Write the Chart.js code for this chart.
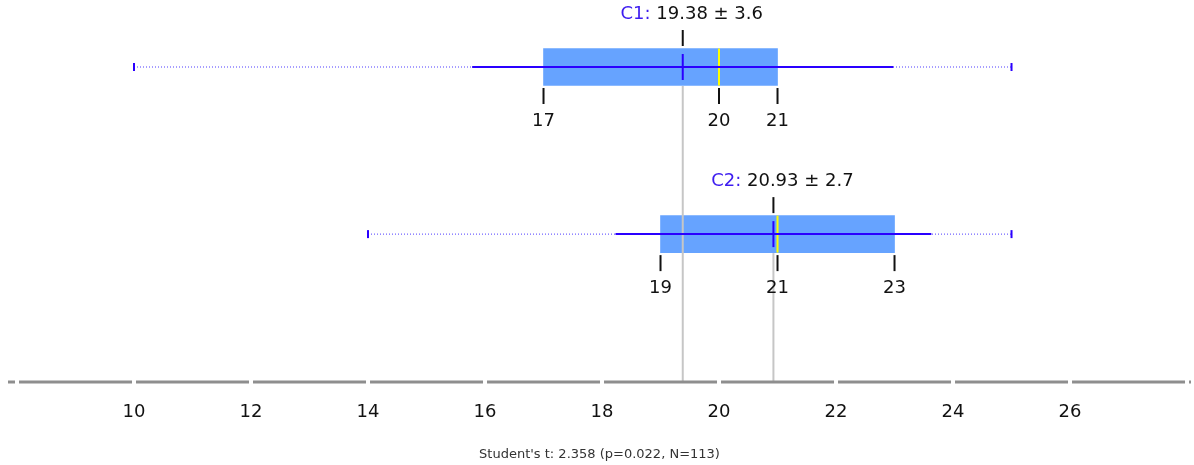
<!DOCTYPE html>
<html>
<head>
<meta charset="utf-8">
<script src="https://cdn.jsdelivr.net/npm/chart.js@4"></script>
<style>
  html, body { margin: 0; padding: 0; background: #fff; }
  #wrap { width: 1194px; height: 465px; }
</style>
</head>
<body>
<div id="wrap"><canvas id="c" width="1194" height="465"></canvas></div>
<script>
// Summary statistics per group
const CATEGORIES = ['C1', 'C2'];
const MINIMUM = [10, 14];
const Q1 = [17, 19];
const MEDIAN = [20, 21];
const Q3 = [21, 23];
const MAXIMUM = [25, 25];
const MEAN = [19.38, 20.93];
const SD = [3.6, 2.7];
const X_TICK_LABELS = [10, 12, 14, 16, 18, 20, 22, 24, 26];
const TEST_SUMMARY = "Student's t: 2.358 (p=0.022, N=113)";

const FONT = '"DejaVu Sans", Verdana, sans-serif';
Chart.defaults.font.family = FONT;

const BOX_HALF = 18.5;
const LINE_BLUE = '#2a00ff';

function line(ctx, x1, y1, x2, y2, color, width) {
  ctx.save();
  ctx.strokeStyle = color;
  ctx.lineWidth = width;
  ctx.beginPath();
  ctx.moveTo(x1, y1);
  ctx.lineTo(x2, y2);
  ctx.stroke();
  ctx.restore();
}

// Reference lines, medians, ticks and value labels around each box
const boxDecor = {
  id: 'boxDecor',
  afterDatasetDraw(chart, args) {
    if (args.index !== 0) return;
    const { ctx, chartArea } = chart;
    const xs = chart.scales.x, ys = chart.scales.y;
    CATEGORIES.forEach((c, i) => {
      const yc = ys.getPixelForValue(i);
      const xm = xs.getPixelForValue(MEAN[i]);
      line(ctx, xm, yc + BOX_HALF + 0.5, xm, chartArea.bottom, '#c6c6c6', 2);
      const xmed = xs.getPixelForValue(MEDIAN[i]);
      line(ctx, xmed, yc - BOX_HALF, xmed, yc + BOX_HALF, '#ffff00', 2);
    });
  },
  afterDatasetsDraw(chart) {
    const { ctx, chartArea } = chart;
    const xs = chart.scales.x, ys = chart.scales.y;

    CATEGORIES.forEach((c, i) => {
      const yc = ys.getPixelForValue(i);
      const xm = xs.getPixelForValue(MEAN[i]);

      // range end caps
      [MINIMUM[i], MAXIMUM[i]].forEach(v => {
        const x = xs.getPixelForValue(v);
        line(ctx, x, yc - 4, x, yc + 4, LINE_BLUE, 2);
      });

      // mean marker inside the box
      line(ctx, xm, yc - 13, xm, yc + 13, LINE_BLUE, 2);

      // mean tick above the box
      line(ctx, xm, yc - 37, xm, yc - 21, '#111', 2);

      // quartile / median ticks and labels below the box
      ctx.save();
      ctx.font = '18px ' + FONT;
      ctx.fillStyle = '#111';
      ctx.textAlign = 'center';
      ctx.textBaseline = 'middle';
      [Q1[i], MEDIAN[i], Q3[i]].forEach(v => {
        const x = xs.getPixelForValue(v);
        line(ctx, x, yc + 21, x, yc + 37, '#111', 2);
        ctx.fillText(String(v), x, yc + 54);
      });
      ctx.restore();

      // group label with mean ± SD
      ctx.save();
      ctx.font = '18px ' + FONT;
      ctx.textBaseline = 'middle';
      ctx.textAlign = 'left';
      const head = c + ':';
      const tail = ' ' + MEAN[i].toFixed(2) + ' \u00B1 ' + SD[i].toFixed(1);
      const wHead = ctx.measureText(head).width;
      const wTail = ctx.measureText(tail).width;
      const x0 = xm + 9 - (wHead + wTail) / 2;
      ctx.fillStyle = '#3d1cf0';
      ctx.fillText(head, x0, yc - 53);
      ctx.fillStyle = '#111';
      ctx.fillText(tail, x0 + wHead, yc - 53);
      ctx.restore();
    });

    // segmented axis line, broken at every tick
    const y = chartArea.bottom;
    const gaps = xs.ticks.map(t => xs.getPixelForValue(t.value));
    let start = chartArea.left;
    ctx.save();
    ctx.strokeStyle = '#8e8e8e';
    ctx.lineWidth = 3;
    gaps.forEach(g => {
      if (g - 2 > start) {
        ctx.beginPath(); ctx.moveTo(start, y); ctx.lineTo(g - 2, y); ctx.stroke();
      }
      start = g + 2;
    });
    if (chartArea.right > start) {
      ctx.beginPath(); ctx.moveTo(start, y); ctx.lineTo(chartArea.right, y); ctx.stroke();
    }
    ctx.restore();
  }
};

const datasets = [{
  type: 'bar',
  label: 'IQR',
  data: CATEGORIES.map((c, i) => ({ x: [Q1[i], Q3[i]], y: i })),
  backgroundColor: '#66a3ff',
  borderWidth: 0,
  barThickness: 37,
  order: 10
}];

CATEGORIES.forEach((c, i) => {
  datasets.push({
    type: 'line',
    label: c + ' range',
    data: [{ x: MINIMUM[i], y: i }, { x: MAXIMUM[i], y: i }],
    borderColor: '#4f3dff',
    borderWidth: 1,
    borderDash: [1, 2],
    pointRadius: 0,
    order: 6
  });
  datasets.push({
    type: 'line',
    label: c + ' mean \u00B1 SD',
    data: [{ x: MEAN[i] - SD[i], y: i }, { x: MEAN[i] + SD[i], y: i }],
    borderColor: LINE_BLUE,
    borderWidth: 2,
    pointRadius: 0,
    order: 5
  });
});

new Chart(document.getElementById('c'), {
  type: 'bar',
  data: { datasets },
  plugins: [boxDecor],
  options: {
    responsive: false,
    animation: false,
    devicePixelRatio: 1,
    indexAxis: 'y',
    layout: { padding: { left: 8, right: 3, top: 0, bottom: 0 } },
    scales: {
      x: {
        type: 'linear',
        min: 7.846,
        max: 28.068,
        grid: { display: false, drawTicks: true, tickLength: 20 },
        border: { display: false },
        ticks: {
          stepSize: 2,
          includeBounds: false,
          autoSkip: false,
          maxRotation: 0,
          padding: 0,
          color: '#111',
          font: { size: 18 },
          callback: v => X_TICK_LABELS.includes(v) ? String(v) : ''
        }
      },
      y: {
        type: 'linear',
        display: false,
        offset: false,
        reverse: true,
        min: -0.401,
        max: 1.885
      }
    },
    plugins: {
      legend: { display: false },
      tooltip: { enabled: false },
      title: {
        display: true,
        text: TEST_SUMMARY,
        position: 'bottom',
        color: '#333',
        font: { size: 13, weight: 'normal' },
        padding: { top: 22.8, bottom: 3 }
      }
    }
  }
});
</script>
</body>
</html>
